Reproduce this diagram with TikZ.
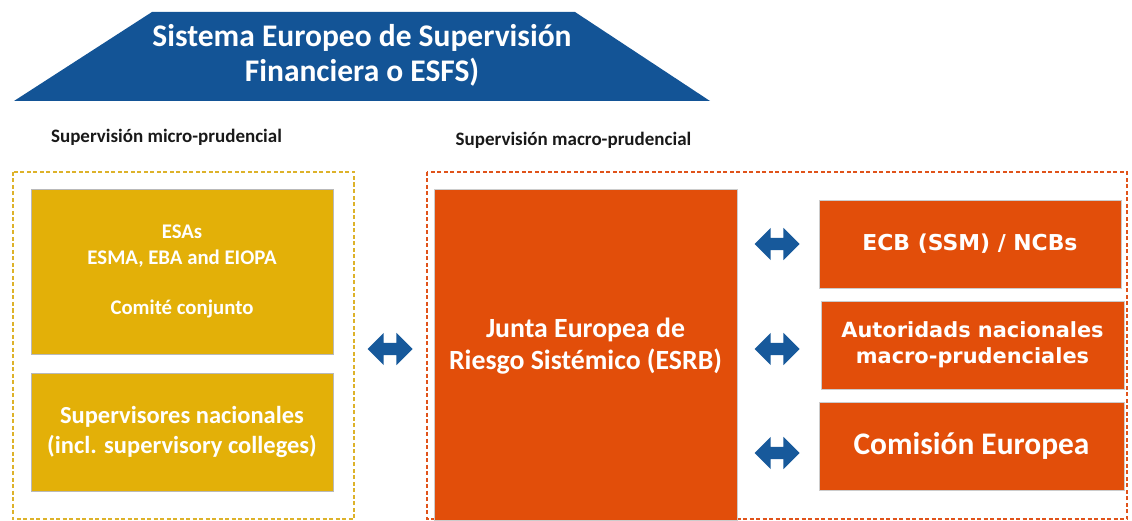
\documentclass[tikz,border=0pt]{standalone}
\usepackage{fontspec}
\setmainfont{Carlito}
\newfontfamily\verd{DejaVu Sans}
\usetikzlibrary{shapes.arrows}
\definecolor{tblue}{HTML}{135496}
\definecolor{ablue}{HTML}{17599B}
\definecolor{gold}{HTML}{E3B008}
\definecolor{golddash}{HTML}{DDB22A}
\definecolor{orng}{HTML}{E24E0A}
\definecolor{orngdash}{HTML}{E0531A}
\tikzset{
  goldbox/.style={rectangle, fill=gold, draw=gray!55, line width=0.6pt, inner sep=0pt, text=white, align=center, font=\bfseries},
  orbox/.style={rectangle, fill=orng, draw=gray!40, line width=0.6pt, inner sep=0pt, text=white, align=center, font=\bfseries},
  dbox/.style={dashed, dash pattern=on 4pt off 2.5pt, line width=1.6pt},
  barrow/.style={double arrow, fill=ablue, draw=none, inner sep=0pt, minimum height=45pt, minimum width=32pt, double arrow head extend=10pt, double arrow tip angle=90, text width=0pt, text height=6pt, text depth=6pt},
  hdr/.style={font=\bfseries\fontsize{19}{22}\selectfont, text=black!90, inner sep=0pt}
}
\begin{document}
\begin{tikzpicture}[x=1pt,y=-1pt]
\useasboundingbox (0,0) rectangle (1132,521);
% title
\fill[tblue] (14,101) -- (152,12) -- (575,12) -- (710,101) -- cycle;
\node[text=white, align=center, font=\bfseries\fontsize{31.5}{35}\selectfont, inner sep=0pt] (title) at (362,55) {Sistema Europeo de Supervisión\\Financiera o ESFS)};
% headers
\node[hdr] (hmicro) at (166.5,137) {Supervisión micro-prudencial};
\node[hdr] (hmacro) at (573.5,140) {Supervisión macro-prudencial};
% dashed frames
\draw[dbox, golddash] (13,172) rectangle (354,519);
\draw[dbox, orngdash] (427,172) rectangle (1127,519);
% left boxes
\node[goldbox, minimum width=302pt, minimum height=165pt, font=\bfseries\fontsize{20.8}{26}\selectfont] (esas) at (182,271.5) {ESAs\\ESMA, EBA and EIOPA\\[24pt]Comité conjunto};
\node[goldbox, minimum width=302pt, minimum height=118pt, font=\bfseries\fontsize{24.5}{30}\selectfont] (nat) at (182,432) {Supervisores nacionales\\(incl. supervisory colleges)};
% ESRB
\node[orbox, minimum width=303pt, minimum height=331pt] (esrb) at (585.5,354.5) {};
\node[text=white, align=center, font=\bfseries\fontsize{27.8}{32}\selectfont, inner sep=0pt] (esrbt) at (585.5,346) {Junta Europea de\\Riesgo Sistémico (ESRB)};
% right boxes
\node[orbox, minimum width=302pt, minimum height=88pt, font=\verd\bfseries\fontsize{21.9}{26}\selectfont] (ecb) at (970,244) {ECB (SSM) / NCBs};
\node[orbox, minimum width=303pt, minimum height=88pt, font=\verd\bfseries\fontsize{20.9}{26}\selectfont] (aut) at (972.5,345) {Autoridads nacionales\\macro-prudenciales};
\node[orbox, minimum width=305pt, minimum height=88pt, font=\bfseries\fontsize{31.4}{34}\selectfont] (com) at (971.5,446) {Comisión Europea};
% arrows
\node[barrow] (a0) at (390,349) {};
\node[barrow] (a1) at (777,244) {};
\node[barrow] (a2) at (777,349) {};
\node[barrow] (a3) at (777,453) {};
\end{tikzpicture}
\end{document}
